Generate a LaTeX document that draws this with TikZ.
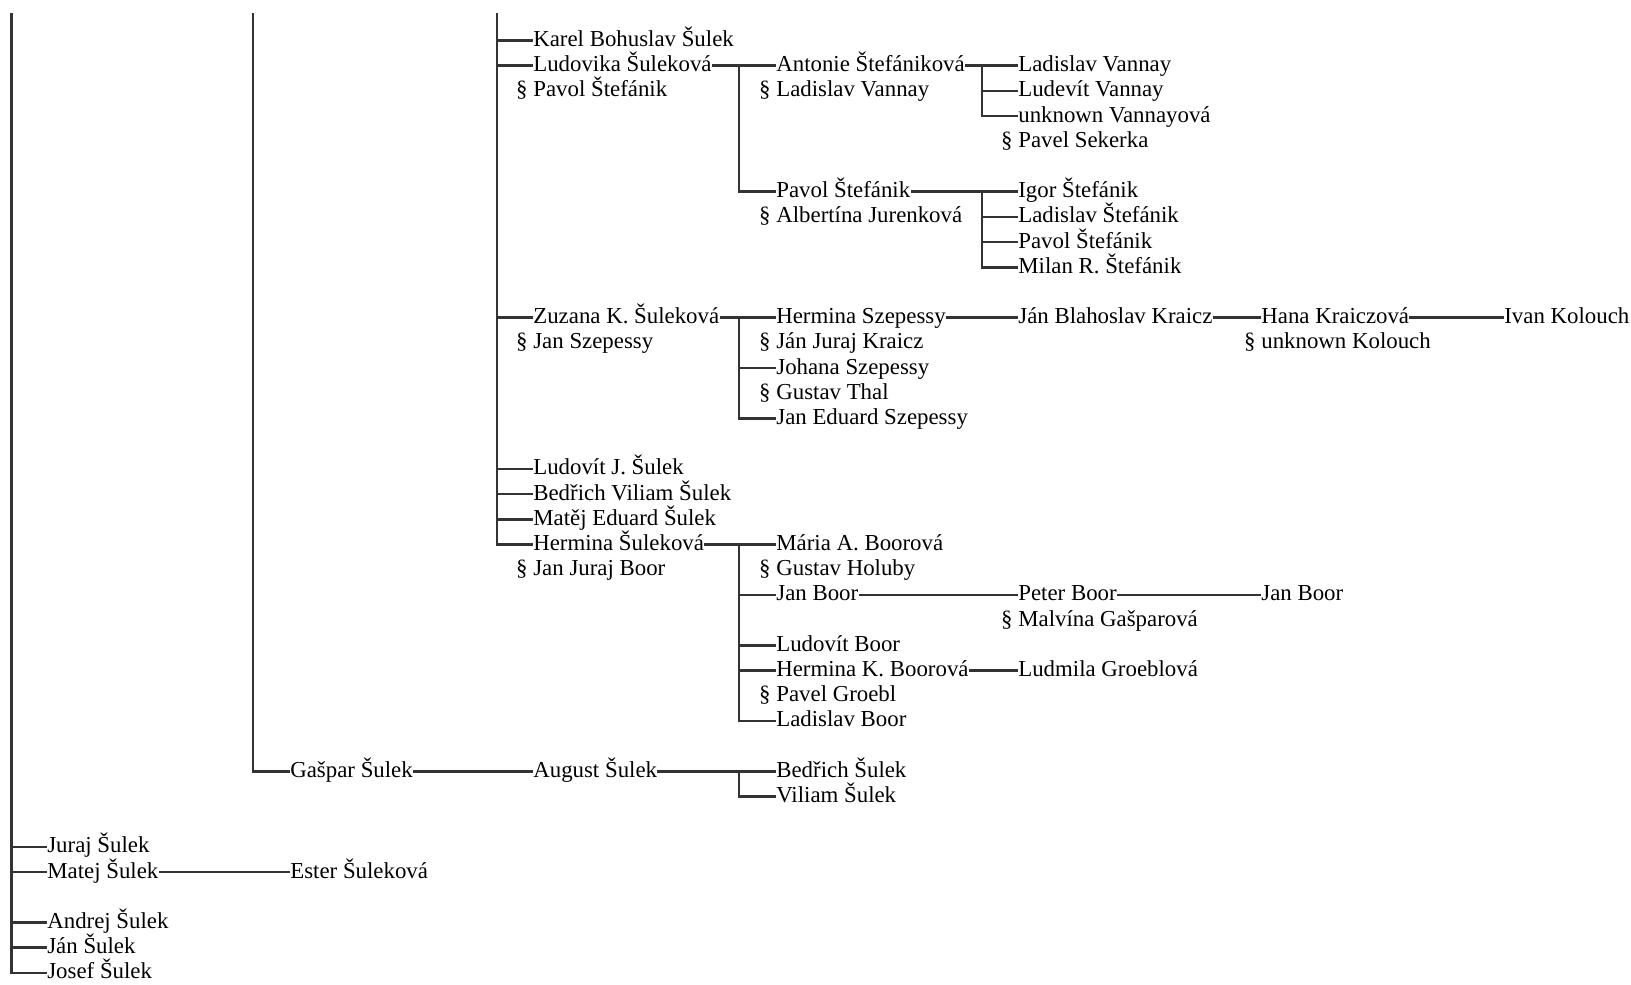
\documentclass[tikz,border=0pt]{standalone}
\usepackage{fontspec}
\setmainfont{Liberation Serif}

\tikzset{
    person/.style={anchor=west, inner sep=0pt, text height=9.1pt, text depth=2.3pt,
        font=\fontsize{13}{15}\selectfont},
    spouse/.style={person, execute at begin node={\llap{§ }}},
    link/.style={black!80, line width=1.4pt},
}

\begin{document}
\begin{tikzpicture}[x=0.02cm, y=-0.02cm]
    \useasboundingbox (0,0) rectangle (1631,984);
    % Trunks and forks
    \coordinate (trunk0) at (11.5,13);
    \coordinate (trunk1) at (253,13);
    \coordinate (trunk2) at (497,13);
    \coordinate (fork3) at (739,0);
    \coordinate (fork4) at (982,0);

    % Children of the second trunk
    \node[person] (karel) at (533,40.5) {Karel Bohuslav Šulek};
    \node[person] (ludovika) at (533,65.7) {Ludovika Šuleková};
    \node[spouse] (ludovikaSp) at (533,90.9) {Pavol Štefánik};
    \node[person] (zuzana) at (533,317.7) {Zuzana K. Šuleková};
    \node[spouse] (zuzanaSp) at (533,342.9) {Jan Szepessy};
    \node[person] (ludovitJ) at (533,468.9) {Ludovít J. Šulek};
    \node[person] (bedrichV) at (533,494.1) {Bedřich Viliam Šulek};
    \node[person] (matejE) at (533,519.3) {Matěj Eduard Šulek};
    \node[person] (herminaSu) at (533,544.5) {Hermina Šuleková};
    \node[spouse] (herminaSuSp) at (533,569.7) {Jan Juraj Boor};

    % Ludovika's line
    \node[person] (antonie) at (776,65.7) {Antonie Štefániková};
    \node[spouse] (antonieSp) at (776,90.9) {Ladislav Vannay};
    \node[person] (ladislavV) at (1018,65.7) {Ladislav Vannay};
    \node[person] (ludevit) at (1018,90.9) {Ludevít Vannay};
    \node[person] (unknownV) at (1018,116.1) {unknown Vannayová};
    \node[spouse] (unknownVSp) at (1018,141.3) {Pavel Sekerka};
    \node[person] (pavol) at (776,191.7) {Pavol Štefánik};
    \node[spouse] (pavolSp) at (776,216.9) {Albertína Jurenková};
    \node[person] (igor) at (1018,191.7) {Igor Štefánik};
    \node[person] (ladislavSt) at (1018,216.9) {Ladislav Štefánik};
    \node[person] (pavolSt) at (1018,242.1) {Pavol Štefánik};
    \node[person] (milan) at (1018,267.3) {Milan R. Štefánik};

    % Zuzana's line
    \node[person] (herminaSz) at (776,317.7) {Hermina Szepessy};
    \node[spouse] (herminaSzSp) at (776,342.9) {Ján Juraj Kraicz};
    \node[person] (johana) at (776,368.1) {Johana Szepessy};
    \node[spouse] (johanaSp) at (776,393.3) {Gustav Thal};
    \node[person] (janEduard) at (776,418.5) {Jan Eduard Szepessy};
    \node[person] (janBlahoslav) at (1018,317.7) {Ján Blahoslav Kraicz};
    \node[person] (hana) at (1261,317.7) {Hana Kraiczová};
    \node[spouse] (hanaSp) at (1261,342.9) {unknown Kolouch};
    \node[person] (ivan) at (1504,317.7) {Ivan Kolouch};

    % Hermina's line
    \node[person] (maria) at (776,544.5) {Mária A. Boorová};
    \node[spouse] (mariaSp) at (776,569.7) {Gustav Holuby};
    \node[person] (janBoor) at (776,594.9) {Jan Boor};
    \node[person] (peter) at (1018,594.9) {Peter Boor};
    \node[spouse] (peterSp) at (1018,620.1) {Malvína Gašparová};
    \node[person] (janBoorB) at (1261,594.9) {Jan Boor};
    \node[person] (ludovitB) at (776,645.3) {Ludovít Boor};
    \node[person] (herminaK) at (776,670.5) {Hermina K. Boorová};
    \node[spouse] (herminaKSp) at (776,695.7) {Pavel Groebl};
    \node[person] (ludmila) at (1018,670.5) {Ludmila Groeblová};
    \node[person] (ladislavB) at (776,720.9) {Ladislav Boor};

    % Gašpar's line
    \node[person] (gaspar) at (290,771.3) {Gašpar Šulek};
    \node[person] (august) at (533,771.3) {August Šulek};
    \node[person] (bedrichS) at (776,771.3) {Bedřich Šulek};
    \node[person] (viliam) at (776,796.5) {Viliam Šulek};

    % Children of the first trunk
    \node[person] (juraj) at (47,846.9) {Juraj Šulek};
    \node[person] (matej) at (47,872.1) {Matej Šulek};
    \node[person] (ester) at (290,872.1) {Ester Šuleková};
    \node[person] (andrej) at (47,922.5) {Andrej Šulek};
    \node[person] (jan) at (47,947.7) {Ján Šulek};
    \node[person] (josef) at (47,972.9) {Josef Šulek};

    % Draw trunks
    \draw[link] (trunk0) |- (josef.west);
    \foreach \n in {juraj,matej,andrej,jan} {
        \draw[link] (trunk0 |- \n.west) -- (\n.west);
    }
    \draw[link] (matej.east) -- (ester.west);
    \draw[link] (trunk1) |- (gaspar.west);
    \draw[link] (gaspar.east) -- (august.west);
    \draw[link] (august.east) -- (bedrichS.west);
    \draw[link] (fork3 |- august.east) |- (viliam.west);
    \draw[link] (trunk2) |- (herminaSu.west);
    \foreach \n in {karel,ludovika,zuzana,ludovitJ,bedrichV,matejE} {
        \draw[link] (trunk2 |- \n.west) -- (\n.west);
    }

    % Draw forks
    \draw[link] (ludovika.east) -- (antonie.west);
    \draw[link] (fork3 |- ludovika.east) |- (pavol.west);
    \draw[link] (antonie.east) -- (ladislavV.west);
    \draw[link] (fork4 |- antonie.east) |- (unknownV.west);
    \draw[link] (fork4 |- ludevit.west) -- (ludevit.west);
    \draw[link] (pavol.east) -- (igor.west);
    \draw[link] (fork4 |- pavol.east) |- (milan.west);
    \foreach \n in {ladislavSt,pavolSt} {
        \draw[link] (fork4 |- \n.west) -- (\n.west);
    }
    \draw[link] (zuzana.east) -- (herminaSz.west);
    \draw[link] (fork3 |- zuzana.east) |- (janEduard.west);
    \draw[link] (fork3 |- johana.west) -- (johana.west);
    \draw[link] (herminaSz.east) -- (janBlahoslav.west);
    \draw[link] (janBlahoslav.east) -- (hana.west);
    \draw[link] (hana.east) -- (ivan.west);
    \draw[link] (herminaSu.east) -- (maria.west);
    \draw[link] (fork3 |- herminaSu.east) |- (ladislavB.west);
    \foreach \n in {janBoor,ludovitB,herminaK} {
        \draw[link] (fork3 |- \n.west) -- (\n.west);
    }
    \draw[link] (janBoor.east) -- (peter.west);
    \draw[link] (peter.east) -- (janBoorB.west);
    \draw[link] (herminaK.east) -- (ludmila.west);
\end{tikzpicture}
\end{document}
